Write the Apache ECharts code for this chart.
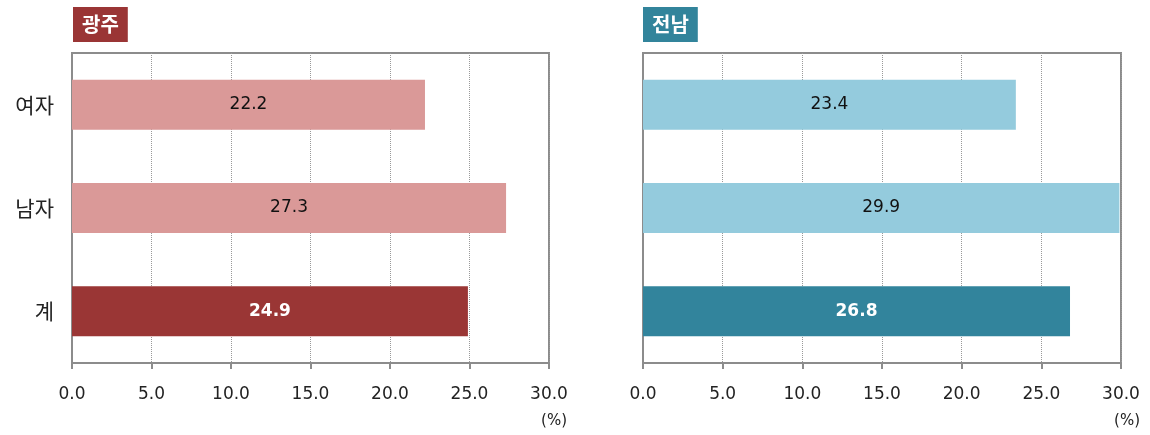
<!DOCTYPE html>
<html><head><meta charset="utf-8">
<script src="https://cdn.jsdelivr.net/npm/echarts@6/dist/echarts.min.js"></script>
<style>html,body{margin:0;padding:0;background:#fff}#c{width:1150px;height:435px}</style>
</head><body><div id="c"></div>
<script>
const categories = ['여자', '남자', '계'];
const gwangjuValues = [22.2, 27.3, 24.9];
const jeonnamValues = [23.4, 29.9, 26.8];
const xTicks = [0, 5, 10, 15, 20, 25, 30];
const panelTitles = ['광주', '전남'];
const unitLabel = '(%)';

const gwangjuColors = ['#DA9998', '#DA9998', '#9A3635'];
const jeonnamColors = ['#94CBDD', '#94CBDD', '#32849C'];
const FONT = '"DejaVu Sans", "Noto Sans CJK KR", sans-serif';
const KFONT = '"Noto Sans CJK KR", sans-serif';

function seriesData(vals, colors) {
  return vals.map((v, i) => ({
    value: v,
    itemStyle: { color: colors[i] },
    label: i === 2 ? { color: '#fff', fontWeight: 'bold' } : { color: '#111' }
  }));
}

function xAxis(idx) {
  return {
    gridIndex: idx, type: 'value', min: xTicks[0], max: xTicks[xTicks.length - 1], interval: 5,
    axisLine: { show: true, lineStyle: { color: '#8c8c8c', width: 2 } },
    axisTick: { show: true, length: 6, lineStyle: { color: '#8c8c8c', width: 2 } },
    axisLabel: { margin: 23, fontSize: 17, color: '#222', fontFamily: FONT, formatter: v => v.toFixed(1) },
    splitLine: { show: true, lineStyle: { type: [1, 1], color: '#999', width: 1 } }
  };
}

function yAxis(idx, showLabels) {
  return {
    gridIndex: idx, type: 'category', data: categories, inverse: true,
    axisLine: { show: true, lineStyle: { color: '#8c8c8c', width: 2 } },
    axisTick: { show: false },
    axisLabel: { show: showLabels, margin: 18, fontSize: 21, color: '#222', fontFamily: KFONT }
  };
}

const titleStyle = { color: '#fff', fontSize: 20, fontWeight: 'bold', fontFamily: KFONT, lineHeight: 23 };

const chart = echarts.init(document.getElementById('c'));
chart.setOption({
  animation: false,
  title: [
    { text: panelTitles[0], left: 73, top: 7, backgroundColor: '#9A3535', padding: [6, 9, 6, 9], textStyle: titleStyle },
    { text: panelTitles[1], left: 643, top: 7, backgroundColor: '#32849B', padding: [6, 9, 6, 9], textStyle: titleStyle }
  ],
  grid: [
    { left: 72, right: 601, top: 53, bottom: 72, show: true, borderColor: '#8c8c8c', borderWidth: 2, backgroundColor: 'transparent' },
    { left: 643, right: 29, top: 53, bottom: 72, show: true, borderColor: '#8c8c8c', borderWidth: 2, backgroundColor: 'transparent' }
  ],
  xAxis: [xAxis(0), xAxis(1)],
  yAxis: [yAxis(0, true), yAxis(1, false)],
  graphic: [
    { type: 'text', right: 1150 - 567, top: 414, style: { text: unitLabel, fontSize: 15, fill: '#222', fontFamily: FONT } },
    { type: 'text', right: 10, top: 414, style: { text: unitLabel, fontSize: 15, fill: '#222', fontFamily: FONT } }
  ],
  series: [
    { type: 'bar', xAxisIndex: 0, yAxisIndex: 0, barWidth: 50, data: seriesData(gwangjuValues, gwangjuColors),
      label: { show: true, position: 'inside', fontSize: 17, fontFamily: FONT, formatter: p => p.value.toFixed(1) } },
    { type: 'bar', xAxisIndex: 1, yAxisIndex: 1, barWidth: 50, data: seriesData(jeonnamValues, jeonnamColors),
      label: { show: true, position: 'inside', fontSize: 17, fontFamily: FONT, formatter: p => p.value.toFixed(1) } }
  ]
});
</script></body></html>
